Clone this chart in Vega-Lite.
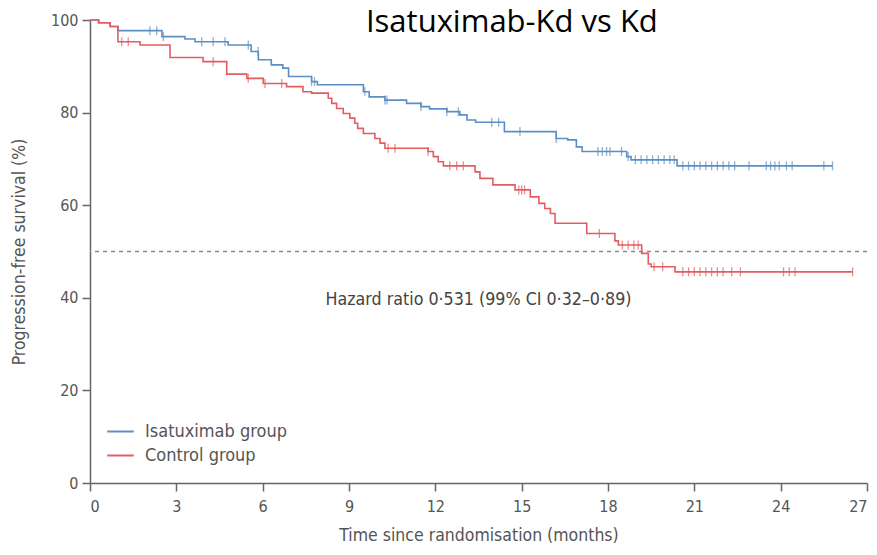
{
  "$schema": "https://vega.github.io/schema/vega-lite/v6.json",
  "width": 777,
  "height": 463,
  "autosize": "none",
  "padding": {"left": 90, "top": 20, "right": 10, "bottom": 72},
  "background": "white",
  "config": {
    "view": {"stroke": null},
    "axis": {"grid": false, "domainColor": "#666666", "domainWidth": 1.5, "tickColor": "#666666", "tickWidth": 1.5, "tickSize": 8, "labelFont": "DejaVu Sans Condensed, DejaVu Sans, sans-serif", "labelFontSize": 16, "labelColor": "#555555", "titleFont": "DejaVu Sans Condensed, DejaVu Sans, sans-serif", "titleFontSize": 17.5, "titleFontWeight": "normal", "titleColor": "#555555"}
  },
  "datasets": {
    "curves": [
      {"group": "Isatuximab group", "t": 0, "s": 100},
      {"group": "Isatuximab group", "t": 0.3, "s": 99.4},
      {"group": "Isatuximab group", "t": 0.7, "s": 98.6},
      {"group": "Isatuximab group", "t": 0.97, "s": 97.7},
      {"group": "Isatuximab group", "t": 2.5, "s": 96.4},
      {"group": "Isatuximab group", "t": 3.3, "s": 95.9},
      {"group": "Isatuximab group", "t": 3.65, "s": 95.3},
      {"group": "Isatuximab group", "t": 4.8, "s": 94.6},
      {"group": "Isatuximab group", "t": 5.6, "s": 93.2},
      {"group": "Isatuximab group", "t": 5.85, "s": 91.4},
      {"group": "Isatuximab group", "t": 6.3, "s": 90.3},
      {"group": "Isatuximab group", "t": 6.7, "s": 89.6},
      {"group": "Isatuximab group", "t": 6.9, "s": 87.8},
      {"group": "Isatuximab group", "t": 7.7, "s": 86.7},
      {"group": "Isatuximab group", "t": 7.9, "s": 86.0},
      {"group": "Isatuximab group", "t": 9.5, "s": 84.5},
      {"group": "Isatuximab group", "t": 9.7, "s": 83.4},
      {"group": "Isatuximab group", "t": 10.25, "s": 82.7},
      {"group": "Isatuximab group", "t": 11.0, "s": 82.0},
      {"group": "Isatuximab group", "t": 11.5, "s": 81.3},
      {"group": "Isatuximab group", "t": 11.8, "s": 80.8},
      {"group": "Isatuximab group", "t": 12.4, "s": 80.2},
      {"group": "Isatuximab group", "t": 12.85, "s": 79.5},
      {"group": "Isatuximab group", "t": 13.1, "s": 78.4},
      {"group": "Isatuximab group", "t": 13.4, "s": 77.9},
      {"group": "Isatuximab group", "t": 14.4, "s": 75.9},
      {"group": "Isatuximab group", "t": 16.2, "s": 74.4},
      {"group": "Isatuximab group", "t": 16.6, "s": 74.1},
      {"group": "Isatuximab group", "t": 16.9, "s": 72.6},
      {"group": "Isatuximab group", "t": 17.1, "s": 71.6},
      {"group": "Isatuximab group", "t": 18.65, "s": 70.5},
      {"group": "Isatuximab group", "t": 18.8, "s": 69.8},
      {"group": "Isatuximab group", "t": 20.4, "s": 68.5},
      {"group": "Isatuximab group", "t": 25.8, "s": 68.5},
      {"group": "Control group", "t": 0, "s": 100},
      {"group": "Control group", "t": 0.3, "s": 99.4},
      {"group": "Control group", "t": 0.7, "s": 98.6},
      {"group": "Control group", "t": 0.97, "s": 95.3},
      {"group": "Control group", "t": 1.74, "s": 94.6},
      {"group": "Control group", "t": 2.78, "s": 91.9},
      {"group": "Control group", "t": 3.93, "s": 91.0},
      {"group": "Control group", "t": 4.75, "s": 88.3},
      {"group": "Control group", "t": 5.45, "s": 87.4},
      {"group": "Control group", "t": 6.02, "s": 86.3},
      {"group": "Control group", "t": 6.83, "s": 85.6},
      {"group": "Control group", "t": 7.4, "s": 84.5},
      {"group": "Control group", "t": 7.7, "s": 84.2},
      {"group": "Control group", "t": 8.28, "s": 83.1},
      {"group": "Control group", "t": 8.4, "s": 82.0},
      {"group": "Control group", "t": 8.57, "s": 80.9},
      {"group": "Control group", "t": 8.8, "s": 79.8},
      {"group": "Control group", "t": 9.03, "s": 78.8},
      {"group": "Control group", "t": 9.2, "s": 77.7},
      {"group": "Control group", "t": 9.3, "s": 76.6},
      {"group": "Control group", "t": 9.5, "s": 75.5},
      {"group": "Control group", "t": 9.9, "s": 74.4},
      {"group": "Control group", "t": 10.08, "s": 73.4},
      {"group": "Control group", "t": 10.25, "s": 72.3},
      {"group": "Control group", "t": 11.75, "s": 71.6},
      {"group": "Control group", "t": 11.93, "s": 70.5},
      {"group": "Control group", "t": 12.1, "s": 69.4},
      {"group": "Control group", "t": 12.28, "s": 68.5},
      {"group": "Control group", "t": 13.38, "s": 67.2},
      {"group": "Control group", "t": 13.55, "s": 65.8},
      {"group": "Control group", "t": 14.0, "s": 64.4},
      {"group": "Control group", "t": 14.77, "s": 63.3},
      {"group": "Control group", "t": 15.3, "s": 61.8},
      {"group": "Control group", "t": 15.6, "s": 60.4},
      {"group": "Control group", "t": 15.8, "s": 59.3},
      {"group": "Control group", "t": 16.0, "s": 58.2},
      {"group": "Control group", "t": 16.16, "s": 56.1},
      {"group": "Control group", "t": 17.26, "s": 53.9},
      {"group": "Control group", "t": 18.24, "s": 52.3},
      {"group": "Control group", "t": 18.36, "s": 51.4},
      {"group": "Control group", "t": 19.17, "s": 49.6},
      {"group": "Control group", "t": 19.4, "s": 47.3},
      {"group": "Control group", "t": 19.5, "s": 46.7},
      {"group": "Control group", "t": 20.33, "s": 45.6},
      {"group": "Control group", "t": 26.5, "s": 45.6}
    ],
    "censor": [
      {"group": "Isatuximab group", "t": 2.08, "s": 97.7},
      {"group": "Isatuximab group", "t": 2.32, "s": 97.7},
      {"group": "Isatuximab group", "t": 2.55, "s": 96.4},
      {"group": "Isatuximab group", "t": 3.88, "s": 95.3},
      {"group": "Isatuximab group", "t": 4.28, "s": 95.3},
      {"group": "Isatuximab group", "t": 4.69, "s": 95.3},
      {"group": "Isatuximab group", "t": 5.5, "s": 94.6},
      {"group": "Isatuximab group", "t": 5.84, "s": 93.2},
      {"group": "Isatuximab group", "t": 7.7, "s": 86.7},
      {"group": "Isatuximab group", "t": 7.8, "s": 86.7},
      {"group": "Isatuximab group", "t": 9.55, "s": 84.5},
      {"group": "Isatuximab group", "t": 10.25, "s": 82.7},
      {"group": "Isatuximab group", "t": 10.32, "s": 82.7},
      {"group": "Isatuximab group", "t": 11.5, "s": 81.3},
      {"group": "Isatuximab group", "t": 12.4, "s": 80.2},
      {"group": "Isatuximab group", "t": 12.8, "s": 80.2},
      {"group": "Isatuximab group", "t": 13.96, "s": 77.9},
      {"group": "Isatuximab group", "t": 14.2, "s": 77.9},
      {"group": "Isatuximab group", "t": 14.94, "s": 75.9},
      {"group": "Isatuximab group", "t": 16.2, "s": 74.4},
      {"group": "Isatuximab group", "t": 17.65, "s": 71.6},
      {"group": "Isatuximab group", "t": 17.8, "s": 71.6},
      {"group": "Isatuximab group", "t": 17.95, "s": 71.6},
      {"group": "Isatuximab group", "t": 18.07, "s": 71.6},
      {"group": "Isatuximab group", "t": 18.47, "s": 71.6},
      {"group": "Isatuximab group", "t": 18.7, "s": 70.5},
      {"group": "Isatuximab group", "t": 18.95, "s": 69.8},
      {"group": "Isatuximab group", "t": 19.15, "s": 69.8},
      {"group": "Isatuximab group", "t": 19.35, "s": 69.8},
      {"group": "Isatuximab group", "t": 19.55, "s": 69.8},
      {"group": "Isatuximab group", "t": 19.75, "s": 69.8},
      {"group": "Isatuximab group", "t": 19.95, "s": 69.8},
      {"group": "Isatuximab group", "t": 20.15, "s": 69.8},
      {"group": "Isatuximab group", "t": 20.3, "s": 69.8},
      {"group": "Isatuximab group", "t": 20.6, "s": 68.5},
      {"group": "Isatuximab group", "t": 20.8, "s": 68.5},
      {"group": "Isatuximab group", "t": 21.0, "s": 68.5},
      {"group": "Isatuximab group", "t": 21.2, "s": 68.5},
      {"group": "Isatuximab group", "t": 21.4, "s": 68.5},
      {"group": "Isatuximab group", "t": 21.6, "s": 68.5},
      {"group": "Isatuximab group", "t": 21.8, "s": 68.5},
      {"group": "Isatuximab group", "t": 22.0, "s": 68.5},
      {"group": "Isatuximab group", "t": 22.2, "s": 68.5},
      {"group": "Isatuximab group", "t": 22.4, "s": 68.5},
      {"group": "Isatuximab group", "t": 22.9, "s": 68.5},
      {"group": "Isatuximab group", "t": 23.5, "s": 68.5},
      {"group": "Isatuximab group", "t": 23.65, "s": 68.5},
      {"group": "Isatuximab group", "t": 23.8, "s": 68.5},
      {"group": "Isatuximab group", "t": 23.95, "s": 68.5},
      {"group": "Isatuximab group", "t": 24.2, "s": 68.5},
      {"group": "Isatuximab group", "t": 24.4, "s": 68.5},
      {"group": "Isatuximab group", "t": 25.5, "s": 68.5},
      {"group": "Isatuximab group", "t": 25.8, "s": 68.5},
      {"group": "Control group", "t": 1.1, "s": 95.3},
      {"group": "Control group", "t": 1.33, "s": 95.3},
      {"group": "Control group", "t": 4.28, "s": 91.0},
      {"group": "Control group", "t": 5.5, "s": 87.4},
      {"group": "Control group", "t": 6.08, "s": 86.3},
      {"group": "Control group", "t": 6.66, "s": 86.3},
      {"group": "Control group", "t": 10.36, "s": 72.3},
      {"group": "Control group", "t": 10.6, "s": 72.3},
      {"group": "Control group", "t": 11.75, "s": 71.6},
      {"group": "Control group", "t": 12.5, "s": 68.5},
      {"group": "Control group", "t": 12.74, "s": 68.5},
      {"group": "Control group", "t": 12.97, "s": 68.5},
      {"group": "Control group", "t": 14.9, "s": 63.3},
      {"group": "Control group", "t": 15.0, "s": 63.3},
      {"group": "Control group", "t": 15.1, "s": 63.3},
      {"group": "Control group", "t": 17.7, "s": 53.9},
      {"group": "Control group", "t": 18.5, "s": 51.4},
      {"group": "Control group", "t": 18.7, "s": 51.4},
      {"group": "Control group", "t": 18.9, "s": 51.4},
      {"group": "Control group", "t": 19.05, "s": 51.4},
      {"group": "Control group", "t": 19.6, "s": 46.7},
      {"group": "Control group", "t": 19.9, "s": 46.7},
      {"group": "Control group", "t": 20.6, "s": 45.6},
      {"group": "Control group", "t": 20.8, "s": 45.6},
      {"group": "Control group", "t": 21.0, "s": 45.6},
      {"group": "Control group", "t": 21.2, "s": 45.6},
      {"group": "Control group", "t": 21.4, "s": 45.6},
      {"group": "Control group", "t": 21.6, "s": 45.6},
      {"group": "Control group", "t": 21.8, "s": 45.6},
      {"group": "Control group", "t": 22.0, "s": 45.6},
      {"group": "Control group", "t": 22.3, "s": 45.6},
      {"group": "Control group", "t": 22.6, "s": 45.6},
      {"group": "Control group", "t": 24.1, "s": 45.6},
      {"group": "Control group", "t": 24.3, "s": 45.6},
      {"group": "Control group", "t": 24.5, "s": 45.6},
      {"group": "Control group", "t": 26.5, "s": 45.6}
    ]
  },
  "layer": [
    {
      "data": {"values": [{"ref": 50}]},
      "mark": {"type": "rule", "color": "#8a8a8a", "strokeWidth": 1.5, "strokeDash": [4, 4]},
      "encoding": {"y": {"field": "ref", "type": "quantitative"}}
    },
    {
      "data": {"name": "curves"},
      "mark": {"type": "line", "interpolate": "step-after", "strokeWidth": 1.6},
      "encoding": {
        "x": {"field": "t", "type": "quantitative", "scale": {"domain": [0, 27], "nice": false}, "axis": {"values": [0, 3, 6, 9, 12, 15, 18, 21, 24, 27], "title": "Time since randomisation (months)", "titlePadding": 12, "labelPadding": 7}},
        "y": {"field": "s", "type": "quantitative", "scale": {"domain": [0, 100], "nice": false}, "axis": {"values": [0, 20, 40, 60, 80, 100], "title": "Progression-free survival (%)", "titlePadding": 22, "labelPadding": 4}},
        "color": {"field": "group", "type": "nominal", "scale": {"domain": ["Isatuximab group", "Control group"], "range": ["#5b8ec4", "#e35d60"]}, "legend": {"title": null, "orient": "none", "legendX": 16, "legendY": 397, "symbolType": "stroke", "symbolSize": 700, "symbolStrokeWidth": 2, "labelFont": "DejaVu Sans Condensed, DejaVu Sans, sans-serif", "labelFontSize": 18, "labelColor": "#555555", "labelOffset": 10, "rowPadding": 0}},
        "detail": {"field": "group"}
      }
    },
    {
      "data": {"name": "censor"},
      "mark": {"type": "tick", "orient": "vertical", "size": 9, "thickness": 1.3},
      "encoding": {
        "x": {"field": "t", "type": "quantitative"},
        "y": {"field": "s", "type": "quantitative"},
        "color": {"field": "group", "type": "nominal", "legend": null}
      }
    },
    {
      "data": {"values": [{"label": "Hazard ratio 0·531 (99% CI 0·32–0·89)", "t": 13.5, "s": 39.5}]},
      "mark": {"type": "text", "font": "DejaVu Sans Condensed, DejaVu Sans, sans-serif", "fontSize": 17.7, "color": "#444444", "align": "center", "baseline": "middle"},
      "encoding": {
        "x": {"field": "t", "type": "quantitative"},
        "y": {"field": "s", "type": "quantitative"},
        "text": {"field": "label"}
      }
    },
    {
      "data": {"values": [{"label": "Isatuximab-Kd vs Kd", "t": 14.66, "s": 97.4}]},
      "mark": {"type": "text", "font": "Open Sans", "fontSize": 31, "color": "#000000", "align": "center", "baseline": "alphabetic"},
      "encoding": {
        "x": {"field": "t", "type": "quantitative"},
        "y": {"field": "s", "type": "quantitative"},
        "text": {"field": "label"}
      }
    }
  ]
}
